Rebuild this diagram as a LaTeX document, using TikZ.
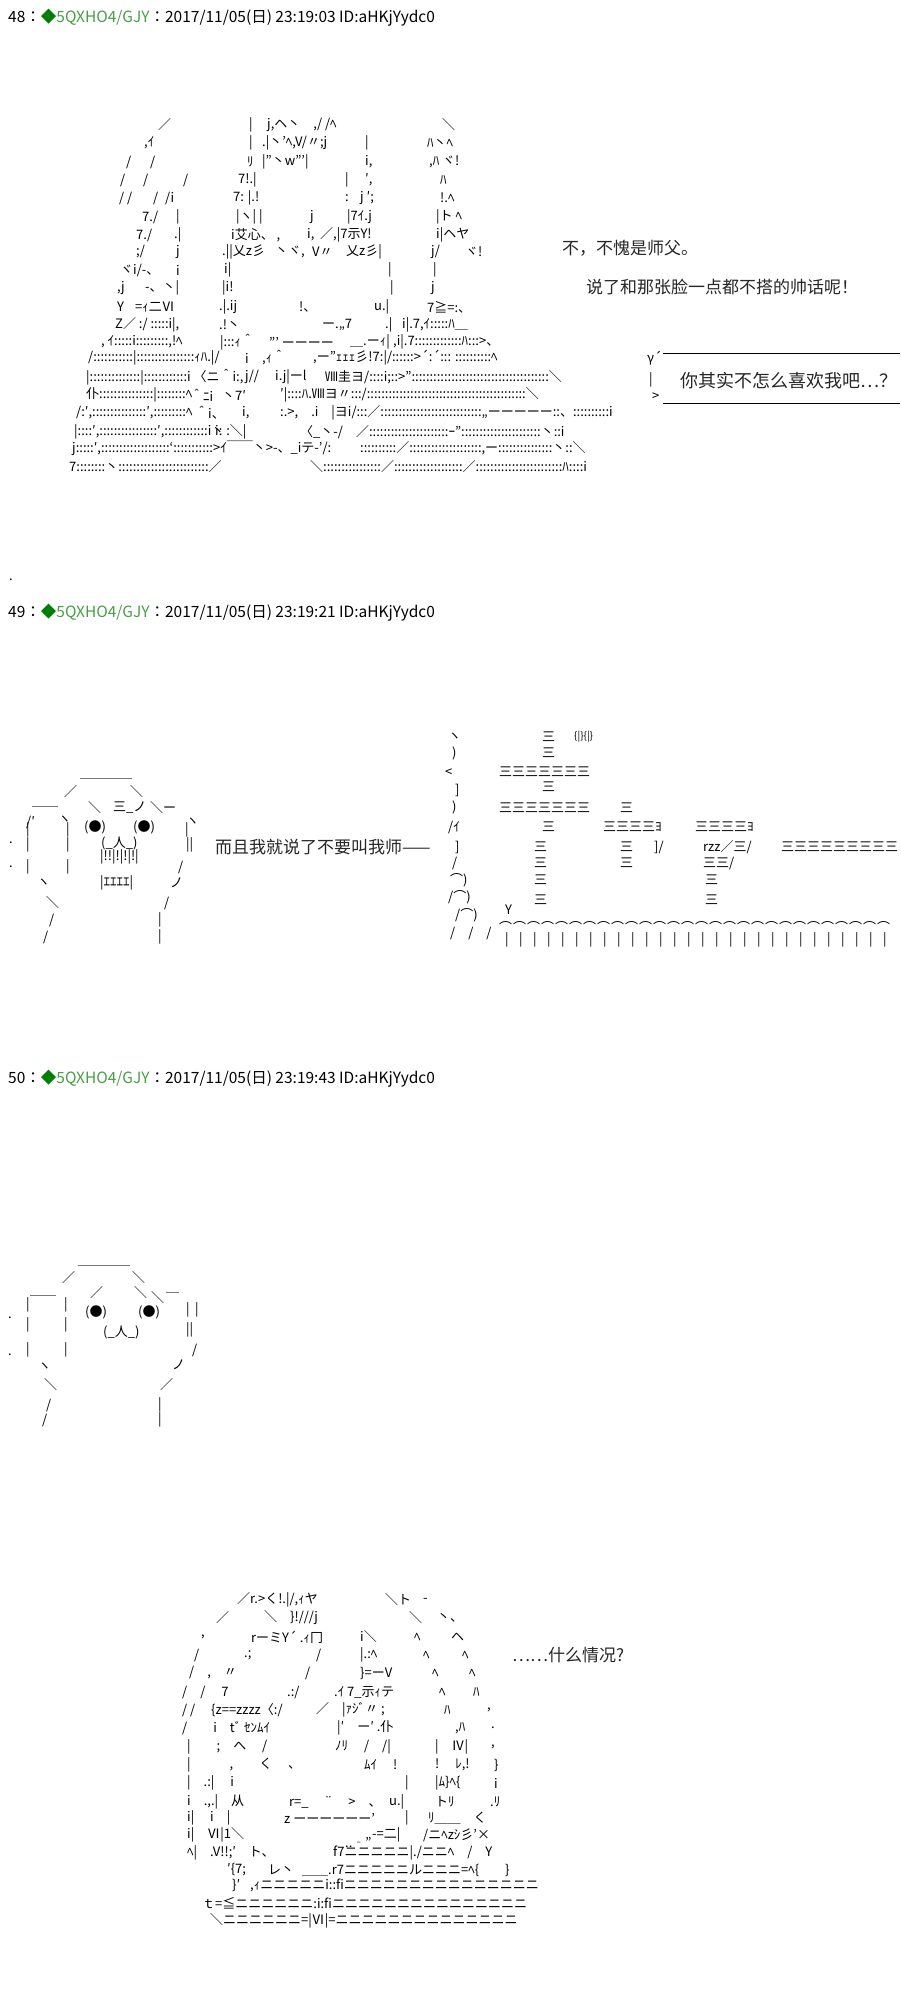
\documentclass[tikz,border=0pt]{standalone}
\usepackage{fontspec}
\setmainfont{Noto Sans CJK JP}
\newfontfamily\zhfont{Noto Sans CJK SC}
\definecolor{tripgreen}{RGB}{0,128,0}
\definecolor{namegreen}{RGB}{70,160,70}
\tikzset{
  aa/.style={font=\fontsize{13}{16}\selectfont, inner sep=0pt, anchor=west},
  head/.style={font=\fontsize{15.5}{17}\selectfont, inner sep=0pt, anchor=west},
  say/.style={font=\zhfont\fontsize{17}{20}\selectfont, inner sep=0pt, anchor=west, text=black!85}
}
\newcommand{\posthead}[3]{\node[head] (#1) at (8,#2) {#1：{\color{tripgreen}◆}{\color{namegreen}5QXHO4/GJY}：2017/11/05(日) #3 ID:aHKjYydc0};}

\begin{document}
\begin{tikzpicture}[x=1pt, y=-1pt]
\useasboundingbox[fill=white] (0,0) rectangle (900,2000);

% headers
\posthead{48}{18}{23:19:03}
\posthead{49}{613}{23:19:21}
\posthead{50}{1079}{23:19:43}
\node[aa] (dot) at (9,580) {.};

% panel 48 figure
\node[aa] at (158,125) {／};  \node[aa] at (249,125) {|}; \node[aa] at (267,125) {j,ヘ丶　,/ /ﾍ}; \node[aa] at (442,125) {＼};
\node[aa] at (144,143) {,ｲ}; \node[aa] at (249,143) {|}; \node[aa] at (262,143) {.|丶'ﾍ,V/〃;j}; \node[aa] at (365,143) {|}; \node[aa] at (427,143) {ﾊ丶ﾍ};
\node[aa] at (126,162) {/}; \node[aa] at (150,162) {/}; \node[aa] at (247,162) {ﾘ}; \node[aa] at (262,162) {|''丶w'''|}; \node[aa] at (365,162) {i,}; \node[aa] at (429,162) {,ﾊ ヾ!};
\node[aa] at (120,180) {/}; \node[aa] at (143,180) {/}; \node[aa] at (183,180) {/}; \node[aa] at (238,180) {7!.|}; \node[aa] at (345,180) {|}; \node[aa] at (365,180) {′,}; \node[aa] at (440,180) {ﾊ};
\node[aa] at (119,198) {/ /}; \node[aa] at (153,198) {/}; \node[aa] at (165,198) {/i}; \node[aa] at (233,198) {7: |.!}; \node[aa] at (345,198) {:}; \node[aa] at (360,198) {j ′;}; \node[aa] at (440,198) {!.ﾍ};
\node[aa] at (142,217) {7./}; \node[aa] at (176,217) {|}; \node[aa] at (236,217) {|ヽ| |}; \node[aa] at (310,217) {j}; \node[aa] at (347,217) {|7ｲ.j}; \node[aa] at (436,217) {|ト ﾍ};
\node[aa] at (136,235) {7./}; \node[aa] at (174,235) {.|}; \node[aa] at (231,235) {i艾心、 ,}; \node[aa] at (307,235) {i,}; \node[aa] at (320,235) {／,|7示Y!}; \node[aa] at (436,235) {i|ヘヤ};
\node[aa] at (136,252) {;/}; \node[aa] at (176,252) {j}; \node[aa] at (222,252) {.||乂z彡}; \node[aa] at (275,252) {丶ヾ,}; \node[aa] at (312,252) {V〃}; \node[aa] at (346,252) {乂z彡|}; \node[aa] at (431,252) {j/}; \node[aa] at (465,252) {ヾ!};
\node[aa] at (120,270) {ヾi/-、}; \node[aa] at (176,270) {i}; \node[aa] at (224,270) {i|}; \node[aa] at (388,270) {|}; \node[aa] at (433,270) {|};
\node[aa] at (117,288) {,j}; \node[aa] at (145,288) {-、丶|}; \node[aa] at (222,288) {|i!}; \node[aa] at (390,288) {|}; \node[aa] at (431,288) {j};
\node[aa] at (117,307) {Y}; \node[aa] at (135,307) {=ｨ二Ⅵ}; \node[aa] at (219,307) {.|.ij}; \node[aa] at (299,307) {!、}; \node[aa] at (374,307) {u.|}; \node[aa] at (427,307) {7≧=:、};
\node[aa] at (115,325) {Z／ :/ :::::i|,}; \node[aa] at (219,325) {.!丶}; \node[aa] at (322,325) {ー.,,7}; \node[aa] at (385,325) {.|}; \node[aa] at (402,325) {i|.7,ｲ:::::ﾊ＿};
\node[aa] at (101,342) {, ｲ:::::i:::::::::,!ﾍ}; \node[aa] at (220,342) {|:::ｨ＾}; \node[aa] at (269,342) {''' ーーーー}; \node[aa] at (350,342) {＿.ーｨ|}; \node[aa] at (393,342) {,i|.7:::::::::::::ﾊ:::>、};
\node[aa] at (88,358) {/:::::::::::|::::::::::::::::ｨﾊ.|/}; \node[aa] at (245,358) {i}; \node[aa] at (262,358) {,ｨ＾}; \node[aa] at (313,358) {,ー''ｪｪｪ彡!7:|/::::::>´:´::: ::::::::::ﾍ};
\node[aa] at (86,377) {|::::::::::::::|::::::::::::i 〈ニ＾i:,}; \node[aa] at (245,377) {j//}; \node[aa] at (275,377) {i.j|ーl}; \node[aa] at (325,377) {Ⅷ圭ヨ/::::i;::>''::::::::::::::::::::::::::::::::::::::＼};
\node[aa] at (86,395) {仆:::::::::::::::|::::::::ﾍ}; \node[aa] at (190,395) {＾ﾆi}; \node[aa] at (222,395) {丶7′}; \node[aa] at (280,395) {′|::::ﾊ.Ⅷヨ〃:::/::::::::::::::::::::::::::::::::::::::::::::＼};
\node[aa] at (76,413) {/:′,:::::::::::::::′,:::::::::ﾍ}; \node[aa] at (195,413) {＾i、}; \node[aa] at (242,413) {i,}; \node[aa] at (280,413) {:.>,　.i　|ヨi/:::／::::::::::::::::::::::::::::,,ーーーーー::、::::::::::i};
\node[aa] at (74,432) {|::::′,::::::::::::::::′,::::::::::::i丶}; \node[aa] at (215,432) {i: :＼|}; \node[aa] at (300,432) {〈\_丶-/　／::::::::::::::::::::::ｰ''::::::::::::::::::::::丶::i};
\node[aa] at (72,448) {j:::::′,:::::::::::::::::::`:::::::::::>ｲ￣￣丶>-、\_iテ-'/:}; \node[aa] at (360,448) {::::::::::／::::::::::::::::::::,ー:::::::::::::::丶::＼};
\node[aa] at (69,467) {7::::::::丶:::::::::::::::::::::::::／}; \node[aa] at (310,467) {＼::::::::::::::::／:::::::::::::::::::／::::::::::::::::::::::::ﾊ::::i};

% panel 48 lines
\node[say] (master) at (562,248) {不，不愧是师父。};
\node[say] (face) at (586,287) {说了和那张脸一点都不搭的帅话呢！};
\coordinate (bubbleTL) at (663,353);
\coordinate (bubbleBL) at (663,403);
\draw[line width=0.8pt] (bubbleTL) -- (900,353);
\draw[line width=0.8pt] (bubbleBL) -- (900,403);
\node[aa] (bubbleA) at (647,358) {γ´};
\node[aa] (bubbleB) at (649,380) {|};
\node[aa] (bubbleC) at (652,397) {>};
\node[say, font=\zhfont\fontsize{18}{20}\selectfont] (dislike) at (680,381) {你其实不怎么喜欢我吧…？};

% panel 49 face
\node[aa] at (80,778) {＿＿＿＿};
\node[aa] at (64,792) {／}; \node[aa] at (130,792) {＼};
\node[aa] at (32,806) {＿＿}; \node[aa] at (88,808) {＼}; \node[aa] at (113,808) {三\_ノ}; \node[aa] at (150,808) {＼ー};
\node[aa] at (26,822) {/′}; \node[aa] at (58,820) {ヽ}; \node[aa] at (186,822) {ヽ};
\node[aa] at (26,830) {|}; \node[aa] at (66,830) {|}; \node[aa] at (84,827) {(●)}; \node[aa] at (133,827) {(●)}; \node[aa] at (185,830) {|};
\node[aa] at (9,843) {.}; \node[aa] at (26,845) {|}; \node[aa] at (66,845) {|}; \node[aa] at (101,843) {(\_人\_)}; \node[aa] at (186,845) {||};
\node[aa] at (100,857) {|!!|!|!|!|};
\node[aa] at (9,867) {.}; \node[aa] at (26,867) {|}; \node[aa] at (66,867) {|}; \node[aa] at (178,867) {/};
\node[aa] at (37,883) {ヽ}; \node[aa] at (100,883) {|ｴｴｴｴ|}; \node[aa] at (170,883) {ノ};
\node[aa] at (46,903) {＼}; \node[aa] at (164,903) {/};
\node[aa] at (49,920) {/}; \node[aa] at (158,920) {|};
\node[aa] at (43,937) {/}; \node[aa] at (158,937) {|};
\node[say] (noMaster) at (215,847) {而且我就说了不要叫我师——};

% panel 49 sound effect
\node[aa] at (448,737) {ヽ}; \node[aa] at (452,753) {)}; \node[aa] at (445,773) {<}; \node[aa] at (455,790) {]};
\node[aa] at (452,807) {)}; \node[aa] at (448,827) {/ｲ}; \node[aa] at (455,847) {]}; \node[aa] at (452,863) {/};
\node[aa] at (450,880) {⌒)}; \node[aa] at (448,897) {/⌒)}; \node[aa] at (455,915) {/⌒)}; \node[aa] at (505,910) {Y};
\node[aa] at (450,933) {/　/　/};
\foreach \i in {0,...,27} {
  \node[aa] at (499+14*\i,927) {⌒};
  \node[aa] at (505+14*\i,940) {|};
}
\node[aa] at (542,737) {三}; \node[aa] at (574,737) {{\fontsize{10}{12}\selectfont\{|\}\{|\}}};
\node[aa] at (542,753) {三};
\node[aa] at (499,772) {三三三三三三三};
\node[aa] at (542,787) {三};
\node[aa] at (499,808) {三三三三三三三}; \node[aa] at (620,808) {三};
\node[aa] at (542,827) {三}; \node[aa] at (603,827) {三三三三ﾖ}; \node[aa] at (695,827) {三三三三ﾖ};
\node[aa] at (534,847) {三}; \node[aa] at (620,847) {三}; \node[aa] at (654,847) {]/}; \node[aa] at (703,847) {rzz／三/}; \node[aa] at (781,847) {三三三三三三三三三};
\node[aa] at (534,863) {三}; \node[aa] at (620,863) {三}; \node[aa] at (703,863) {三三/};
\node[aa] at (534,880) {三}; \node[aa] at (705,880) {三};
\node[aa] at (534,900) {三}; \node[aa] at (705,900) {三};

% panel 50 face
\node[aa] at (78,1265) {＿＿＿＿};
\node[aa] at (62,1278) {／}; \node[aa] at (132,1278) {＼};
\node[aa] at (30,1295) {＿＿}; \node[aa] at (90,1293) {／}; \node[aa] at (134,1293) {＼}; \node[aa] at (151,1298) {＼}; \node[aa] at (166,1292) {＿};
\node[aa] at (26,1305) {|}; \node[aa] at (64,1305) {|}; \node[aa] at (85,1312) {(●)}; \node[aa] at (138,1312) {(●)}; \node[aa] at (186,1310) {|}; \node[aa] at (195,1310) {|};
\node[aa] at (8,1318) {.}; \node[aa] at (26,1325) {|}; \node[aa] at (64,1325) {|}; \node[aa] at (103,1332) {(\_人\_)}; \node[aa] at (186,1330) {||};
\node[aa] at (8,1355) {.}; \node[aa] at (26,1350) {|}; \node[aa] at (64,1350) {|}; \node[aa] at (192,1350) {/};
\node[aa] at (38,1367) {ヽ}; \node[aa] at (172,1365) {ノ};
\node[aa] at (44,1385) {＼}; \node[aa] at (160,1385) {／};
\node[aa] at (46,1405) {/}; \node[aa] at (158,1405) {|};
\node[aa] at (42,1420) {/}; \node[aa] at (158,1420) {|};

% panel 50 figure
\node[aa] at (237,1600) {／r.>く!.|/,ｨヤ}; \node[aa] at (385,1600) {＼ト}; \node[aa] at (423,1600) {-};
\node[aa] at (216,1618) {／}; \node[aa] at (264,1618) {＼　\}!///j}; \node[aa] at (409,1618) {＼}; \node[aa] at (437,1618) {丶、};
\node[aa] at (201,1637) {,}; \node[aa] at (251,1637) {rーミY´ .ｨ冂}; \node[aa] at (360,1637) {i＼}; \node[aa] at (414,1637) {ﾍ}; \node[aa] at (451,1637) {ヘ};
\node[aa] at (194,1655) {/}; \node[aa] at (244,1655) {.;}; \node[aa] at (316,1655) {/}; \node[aa] at (360,1655) {|.:ﾍ}; \node[aa] at (423,1655) {ﾍ}; \node[aa] at (462,1655) {ﾍ};
\node[aa] at (189,1673) {/　,　〃}; \node[aa] at (305,1673) {/}; \node[aa] at (360,1673) {\}=ーV}; \node[aa] at (432,1673) {ﾍ}; \node[aa] at (469,1673) {ﾍ};
\node[aa] at (182,1692) {/　/　 7}; \node[aa] at (287,1692) {.:/}; \node[aa] at (334,1692) {.ｲ 7\_示ｨテ}; \node[aa] at (439,1692) {ﾍ}; \node[aa] at (473,1692) {ﾊ};
\node[aa] at (182,1710) {/ /　 \{z==zzzz〈:/}; \node[aa] at (316,1710) {／　|ｧｼﾞ〃 ;}; \node[aa] at (444,1710) {ﾊ}; \node[aa] at (487,1710) {,};
\node[aa] at (182,1728) {/　　i　tﾞ ｾﾝﾑｲ}; \node[aa] at (337,1728) {|′　ー′ .仆}; \node[aa] at (455,1728) {,ﾊ}; \node[aa] at (491,1728) {.};
\node[aa] at (187,1747) {|　　;　へ　 /}; \node[aa] at (335,1747) {ﾉﾘ　 /　/|}; \node[aa] at (435,1747) {|　Ⅳ|}; \node[aa] at (491,1747) {,};
\node[aa] at (187,1765) {|　　　,　　く　 、}; \node[aa] at (364,1765) {ﾑｲ　 !}; \node[aa] at (435,1765) {!　 ﾚ,!}; \node[aa] at (494,1765) {\}};
\node[aa] at (187,1783) {|　.:|　 i}; \node[aa] at (405,1783) {|}; \node[aa] at (435,1783) {|ﾑ\}ﾍ\{}; \node[aa] at (494,1783) {i};
\node[aa] at (187,1802) {i　.,.|　从}; \node[aa] at (289,1802) {r=\_　 ¨　 >　、}; \node[aa] at (389,1802) {u.|}; \node[aa] at (435,1802) {トﾘ}; \node[aa] at (490,1802) {.ﾘ};
\node[aa] at (187,1818) {i|　 i　|}; \node[aa] at (284,1818) {z ーーーーーー'}; \node[aa] at (405,1818) {|}; \node[aa] at (428,1818) {ﾘ＿＿　く};
\node[aa] at (187,1835) {i|　Ⅵ|1＼}; \node[aa] at (372,1835) {-=二|}; \node[aa] at (423,1835) {/ニﾍzｼ彡'×};
\node[aa] at (345,1842) {..‐''};
\node[aa] at (187,1853) {ﾍ|　.V!!;′　ト、}; \node[aa] at (333,1853) {f7ニニニニニ|./ニニﾍ　/　Y};
\node[aa] at (227,1870) {′\{7;}; \node[aa] at (268,1870) {レ丶}; \node[aa] at (302,1870) {＿＿.r7ニニニニニルニニニ=ﾍ\{　　\}};
\node[aa] at (232,1885) {\}′}; \node[aa] at (250,1885) {,ｨニニニニニi::fiニニニニニニニニニニニニニニニ};
\node[aa] at (202,1903) {ｔ=≦ニニニニニニ:i:fiニニニニニニニニニニニニニニニ};
\node[aa] at (210,1921) {＼ニニニニニニ=|Ⅵ|=ニニニニニニニニニニニニニニ};
\node[say] (whatsUp) at (512,1655) {……什么情况?};
\end{tikzpicture}
\end{document}
